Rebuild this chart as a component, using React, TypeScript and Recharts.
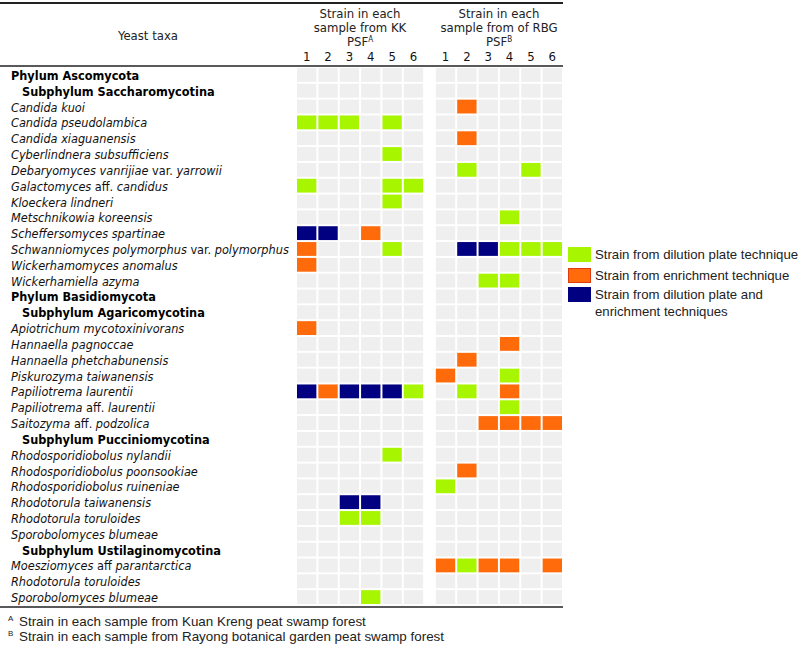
import { ScatterChart, Scatter, XAxis, YAxis, Legend } from "recharts";

// row labels, top to bottom
const taxa = [
  "Phylum Ascomycota",
  "Subphylum Saccharomycotina",
  "Candida kuoi",
  "Candida pseudolambica",
  "Candida xiaguanensis",
  "Cyberlindnera subsufficiens",
  "Debaryomyces vanrijiae var. yarrowii",
  "Galactomyces aff. candidus",
  "Kloeckera lindneri",
  "Metschnikowia koreensis",
  "Scheffersomyces spartinae",
  "Schwanniomyces polymorphus var. polymorphus",
  "Wickerhamomyces anomalus",
  "Wickerhamiella azyma",
  "Phylum Basidiomycota",
  "Subphylum Agaricomycotina",
  "Apiotrichum mycotoxinivorans",
  "Hannaella pagnoccae",
  "Hannaella phetchabunensis",
  "Piskurozyma taiwanensis",
  "Papiliotrema laurentii",
  "Papiliotrema aff. laurentii",
  "Saitozyma aff. podzolica",
  "Subphylum Pucciniomycotina",
  "Rhodosporidiobolus nylandii",
  "Rhodosporidiobolus poonsookiae",
  "Rhodosporidiobolus ruineniae",
  "Rhodotorula taiwanensis",
  "Rhodotorula toruloides",
  "Sporobolomyces blumeae",
  "Subphylum Ustilaginomycotina",
  "Moesziomyces aff parantarctica",
  "Rhodotorula toruloides",
  "Sporobolomyces blumeae",
];

const sampleLabels = ["1", "2", "3", "4", "5", "6"];

// one char per sample: . none, D dilution plate, E enrichment, B both
const kkStrains = [
  "......",
  "......",
  "......",
  "DDD.D.",
  "......",
  "....D.",
  "......",
  "D...DD",
  "....D.",
  "......",
  "BB.E..",
  "E...D.",
  "E.....",
  "......",
  "......",
  "......",
  "E.....",
  "......",
  "......",
  "......",
  "BEBBBD",
  "......",
  "......",
  "......",
  "....D.",
  "......",
  "......",
  "..BB..",
  "..DD..",
  "......",
  "......",
  "......",
  "......",
  "...D..",
];

const rbgStrains = [
  "......",
  "......",
  ".E....",
  "......",
  ".E....",
  "......",
  ".D..D.",
  "......",
  "......",
  "...D..",
  "......",
  ".BBDDD",
  "......",
  "..DD..",
  "......",
  "......",
  "......",
  "...E..",
  ".E....",
  "E..D..",
  ".D.E..",
  "...D..",
  "..EEEE",
  "......",
  "......",
  ".E....",
  "D.....",
  "......",
  "......",
  "......",
  "......",
  "EDEE.E",
  "......",
  "......",
];

const strainTypes = [
  { code: ".", name: "No strain", color: "#efefef" },
  { code: "D", name: "Strain from dilution plate technique", color: "#a8f500" },
  { code: "E", name: "Strain from enrichment technique", color: "#ff6a0a" },
  { code: "B", name: "Strain from dilution plate and enrichment techniques", color: "#000080" },
];

const KK_START = 0;
const RBG_START = 6.5;
const PLOT_W = 563 - 296;
const PLOT_H = 605 - 67;
const CELL_W = PLOT_W / 12.5 - 2;
const CELL_H = PLOT_H / 34 - 2;

const FONT = "'DejaVu Sans Condensed', 'DejaVu Sans', sans-serif";
const ARIAL = "'Liberation Sans', Arial, sans-serif";

const cells = taxa.flatMap((_, row) =>
  sampleLabels.flatMap((_, i) => [
    { x: KK_START + i, y: row, code: kkStrains[row][i] },
    { x: RBG_START + i, y: row, code: rbgStrains[row][i] },
  ])
);

const sampleTicks = [
  ...sampleLabels.map((_, i) => KK_START + i),
  ...sampleLabels.map((_, i) => RBG_START + i),
];

const CellShape = (props: any) => {
  const { cx, cy, fill } = props;
  return (
    <rect x={cx - CELL_W / 2} y={cy - CELL_H / 2} width={CELL_W} height={CELL_H} fill={fill} />
  );
};

const plainWords = new Set(["var.", "aff.", "aff"]);

const TaxonTick = (props: any) => {
  const { y, payload } = props;
  const name = taxa[payload.value];
  if (name === undefined) return null;
  const isPhylum = name.startsWith("Phylum");
  const isSub = name.startsWith("Subphylum");
  if (isPhylum || isSub) {
    return (
      <text x={isSub ? 22 : 11} y={y} dy={5} fontFamily={FONT} fontSize={12.6} fontWeight="bold" fill="#000">
        {name}
      </text>
    );
  }
  const words = name.split(" ");
  return (
    <text x={11} y={y} dy={5} fontFamily={FONT} fontSize={12.6} fill="#111">
      {words.map((w, i) => (
        <tspan key={i} fontStyle={plainWords.has(w) ? "normal" : "italic"}>
          {w + (i < words.length - 1 ? " " : "")}
        </tspan>
      ))}
    </text>
  );
};

const SampleTick = (props: any) => {
  const { x, payload } = props;
  const v = payload.value;
  const label = v >= RBG_START ? sampleLabels[Math.round(v - RBG_START)] : sampleLabels[Math.round(v - KK_START)];
  return (
    <text x={x} y={61} textAnchor="middle" fontFamily={FONT} fontSize={13} fill="#111">
      {label}
    </text>
  );
};

const LegendContent = (props: any) => {
  const payload = props.payload || [];
  const items = strainTypes
    .filter((t) => t.code !== ".")
    .map((t) => payload.find((p: any) => p.value === t.name) || { value: t.name, color: t.color });
  return (
    <div style={{ fontFamily: ARIAL, fontSize: 13.2, color: "#222" }}>
      {items.map((p: any, i: number) => (
        <div key={i} style={{ display: "flex", alignItems: "flex-start", marginBottom: i === 0 ? 5 : 3 }}>
          <div
            style={{
              width: 21,
              height: 13,
              background: p.color,
              border: p.color === "#ff6a0a" ? "1px solid #e03a10" : "1px solid " + p.color,
              flexShrink: 0,
              marginRight: 4,
            }}
          />
          <div
            style={{
              width: p.value.length > 40 ? 195 : 215,
              whiteSpace: p.value.length > 40 ? "normal" : "nowrap",
              lineHeight: "17px",
              marginTop: -1,
            }}
          >
            {p.value}
          </div>
        </div>
      ))}
    </div>
  );
};

const Header = () => (
  <g fontFamily={FONT} fontSize={13} fill="#222">
    <line x1={0} x2={563} y1={3} y2={3} stroke="#222" strokeWidth={2} />
    <line x1={0} x2={563} y1={66} y2={66} stroke="#222" strokeWidth={1.5} />
    <line x1={0} x2={563} y1={607} y2={607} stroke="#222" strokeWidth={1.5} />
    <text x={148} y={40} textAnchor="middle">Yeast taxa</text>
    <text x={360} y={18} textAnchor="middle">Strain in each</text>
    <text x={360} y={32} textAnchor="middle">sample from KK</text>
    <text x={360} y={46} textAnchor="middle">
      PSF<tspan fontSize={8} dy={-4}>A</tspan>
    </text>
    <text x={499} y={18} textAnchor="middle">Strain in each</text>
    <text x={499} y={32} textAnchor="middle">sample from of RBG</text>
    <text x={499} y={46} textAnchor="middle">
      PSF<tspan fontSize={8} dy={-4}>B</tspan>
    </text>
    <g fontFamily={ARIAL} fontSize={13.4}>
      <text x={8} y={621} fontSize={8}>A</text>
      <text x={19} y={626}>Strain in each sample from Kuan Kreng peat swamp forest</text>
      <text x={8} y={636} fontSize={8}>B</text>
      <text x={19} y={641}>Strain in each sample from Rayong botanical garden peat swamp forest</text>
    </g>
  </g>
);

const App = () => {
  return (
    <div style={{ position: "absolute", left: 0, top: 0, width: 800, height: 646, background: "#fff" }}>
      <ScatterChart width={800} height={646} margin={{ top: 47, right: 12, bottom: 41, left: 16 }}>
        <XAxis
          type="number"
          dataKey="x"
          orientation="top"
          domain={[-0.5, 12]}
          ticks={sampleTicks}
          tick={<SampleTick />}
          axisLine={false}
          tickLine={false}
          height={20}
          interval={0}
        />
        <YAxis
          type="number"
          dataKey="y"
          domain={[-0.5, 33.5]}
          reversed
          ticks={taxa.map((_, i) => i)}
          tick={<TaxonTick />}
          axisLine={false}
          tickLine={false}
          width={280}
          interval={0}
        />
        {strainTypes.map((t) => (
          <Scatter
            key={t.code}
            name={t.name}
            data={cells.filter((c) => c.code === t.code)}
            fill={t.color}
            shape={<CellShape />}
            legendType={t.code === "." ? "none" : "square"}
            isAnimationActive={false}
          />
        ))}
        <Legend
          layout="vertical"
          align="right"
          verticalAlign="middle"
          content={<LegendContent />}
          wrapperStyle={{ width: 225, left: 568, top: 247 }}
        />
        <Header />
      </ScatterChart>
    </div>
  );
};

export default App;
